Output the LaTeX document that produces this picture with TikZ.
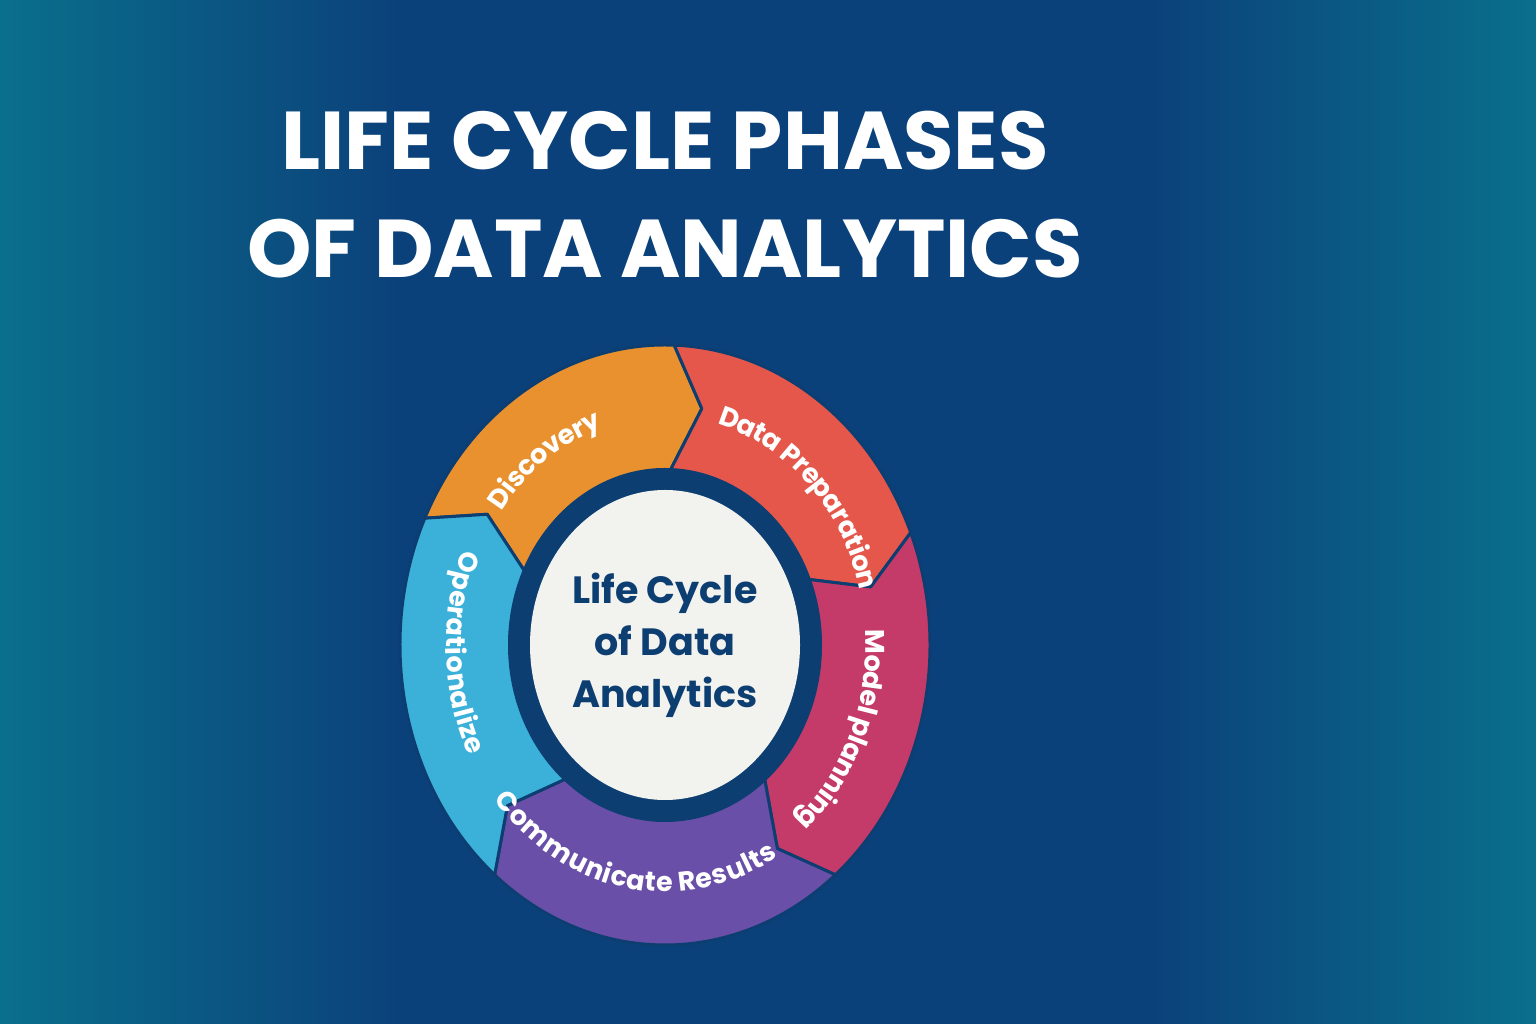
\documentclass[tikz,border=0pt]{standalone}
\usepackage{fontspec}
\newfontfamily\pop{Poppins}
\usetikzlibrary{calc,decorations.text}
\definecolor{navy}{HTML}{0B417A}
\definecolor{teal2}{HTML}{0A6F8C}
\definecolor{ring}{HTML}{0D3E72}
\definecolor{cOr}{HTML}{E8912E}
\definecolor{cRe}{HTML}{E5574A}
\definecolor{cCr}{HTML}{C43A68}
\definecolor{cPu}{HTML}{6A4FA8}
\definecolor{cCy}{HTML}{3BB0D8}
\definecolor{cWh}{HTML}{F2F2EE}
\newcommand\arcfont{\pop\bfseries\fontsize{27}{27}\selectfont\color{white}}
\newcommand\segm[3]{%
 \fill[#3, draw=ring, line width=3pt, line join=round]
  ($(C)+(#1:265 and 300)$) arc[start angle=#1, end angle=#2, x radius=265, y radius=300]
  -- ($(C)+(#2-8:212 and 240)$) -- ($(C)+(#2:155 and 175)$)
  arc[start angle=#2, end angle=#1, x radius=155, y radius=175]
  -- ($(C)+(#1-8:212 and 240)$) -- cycle;}
\newcommand\arctext[3]{%
 \path[decorate, decoration={text along path, text align=center, raise=-9pt,
   text={|\arcfont|#3}}]
  ($(C)+(#1:210 and 238)$) arc[start angle=#1, end angle=#2, x radius=210, y radius=238];}
\begin{document}
\begin{tikzpicture}[x=1pt,y=1pt]
\useasboundingbox (0,0) rectangle (1536,1024);
\fill[navy] (0,0) rectangle (1536,1024);
\shade[left color=teal2, right color=navy] (0,0) rectangle (400,1024);
\shade[left color=navy, right color=teal2] (1150,0) rectangle (1536,1024);
\coordinate (C) at (665,379);
\node[font=\pop\bfseries\fontsize{82}{108}\selectfont, text=white, align=center] (title) at (665,829) {LIFE CYCLE PHASES\\OF DATA ANALYTICS};
\segm{155}{88}{cOr}
\segm{88}{22}{cRe}
\segm{22}{-50}{cCr}
\segm{-50}{-130}{cPu}
\segm{-130}{-205}{cCy}
\fill[ring] (C) ellipse[x radius=157, y radius=177];
\fill[cWh] (C) ellipse[x radius=135, y radius=155];
\node[font=\pop\bfseries\fontsize{38}{52}\selectfont, text=ring, align=center] (center) at (C) {Life Cycle\\of Data\\Analytics};
\arctext{152}{100}{Discovery}
\arctext{88}{2}{Data Preparation}
\arctext{4}{-50}{Model planning}
\arctext{-148}{-52}{Communicate Results}
\arctext{150}{214}{Operationalize}
\end{tikzpicture}
\end{document}
